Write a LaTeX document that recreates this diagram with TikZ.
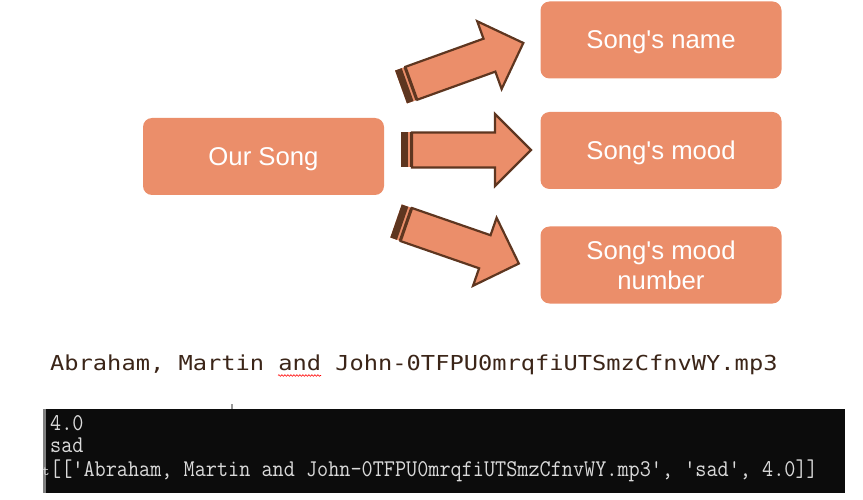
\documentclass[tikz,border=0pt]{standalone}
\usepackage{fontspec}
\setmainfont{Liberation Sans}
\newfontfamily\dvmono{DejaVu Sans Mono}
\usetikzlibrary{decorations.pathmorphing}
\definecolor{boxor}{HTML}{EB8E6A}
\definecolor{arrline}{HTML}{5E3620}
\definecolor{fnbrown}{HTML}{3B2518}
\definecolor{consolebg}{HTML}{0C0C0C}
\definecolor{consoletext}{HTML}{DADADA}
\begin{document}
\begin{tikzpicture}[x=1pt,y=-1pt]
\useasboundingbox (0,0) rectangle (863,500);
\tikzset{
  songbox/.style={fill=boxor, rounded corners=9pt, minimum width=241pt, minimum height=77pt,
    text=white, font=\fontsize{25.7}{30}\selectfont, align=center, inner sep=0pt},
  oneline/.style={text depth=0pt},
  contxt/.style={anchor=base west, inner sep=0pt, text=consoletext,
    font=\ttfamily\fontsize{24}{27}\selectfont},
  blockarrow/.pic={
    \fill[boxor] (0,-17.5) rectangle (12,17.5);
    \fill[arrline] (0,-17.5) rectangle (7,17.5);
    \fill[arrline] (9,-17.5) rectangle (11.5,17.5);
    \draw[arrline, line width=2.2pt, fill=boxor, line join=miter]
      (11,-17.5) -- (94,-17.5) -- (94,-36) -- (130,0) -- (94,36) -- (94,17.5) -- (11,17.5) -- cycle;
  }
}
% boxes
\node[songbox, oneline] (our) at (263.5,156.5) {Our Song};
\node[songbox, oneline] (name) at (661,40) {Song\textquotesingle s name};
\node[songbox, oneline] (mood) at (661,150.5) {Song\textquotesingle s mood};
\node[songbox] (num) at (661,265) {Song\textquotesingle s mood\\number};
% block arrows
\pic[rotate=19.8] at (401,87) {blockarrow};
\pic at (401,150) {blockarrow};
\pic[rotate=-19.1] at (396,221) {blockarrow};
% file name
\node[anchor=base west, inner sep=0pt, text=fnbrown, font=\dvmono\fontsize{20.6}{24}\selectfont]
  (fname) at (50,370) {\scalebox{1.15}[1]{Abraham, Martin and John-0TFPU0mrqfiUTSmzCfnvWY.mp3}};
\draw[red, line width=0.6pt, decorate, decoration={snake, amplitude=0.8pt, segment length=3pt}]
  (278,375.5) -- (321,375.5);
% console
\fill[consolebg] (46,409) rectangle (845,493);
\fill[gray] (43,409) rectangle (46,493);
\fill[gray!80] (231,404) rectangle (233,409);
\node[contxt] (l1) at (50,430) {\scalebox{0.9}[1]{4.0}};
\node[contxt] (l2) at (50,452) {\scalebox{0.9}[1]{sad}};
\node[contxt] (l3) at (50,476) {\scalebox{0.9}[1]{[[\textquotesingle Abraham, Martin and John-0TFPU0mrqfiUTSmzCfnvWY.mp3\textquotesingle, \textquotesingle sad\textquotesingle, 4.0]]}};
\node[anchor=base, inner sep=0pt, text=consoletext, font=\ttfamily\fontsize{14}{14}\selectfont] (tt) at (46,475) {t};
\end{tikzpicture}
\end{document}
